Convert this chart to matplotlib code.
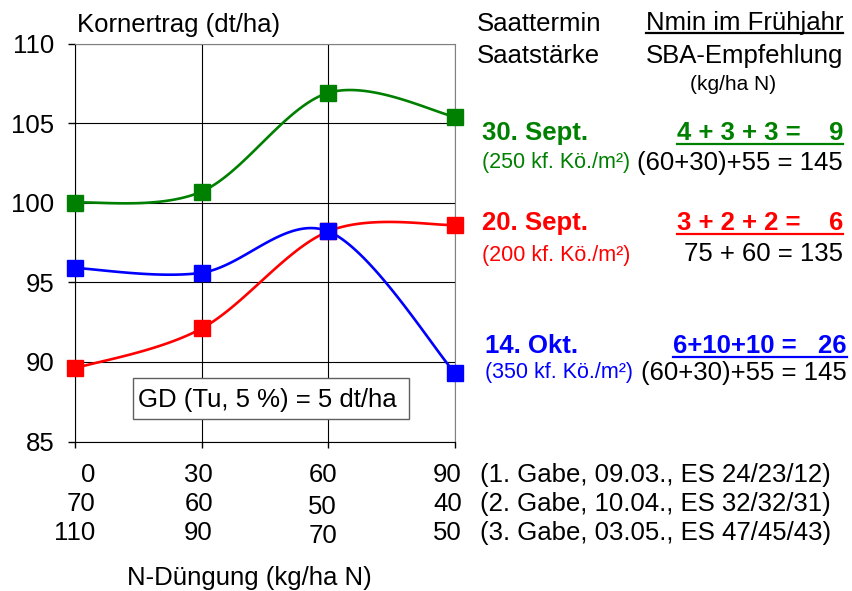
import numpy as np
import matplotlib
matplotlib.use("Agg")
import matplotlib.pyplot as plt
from matplotlib.lines import Line2D
from matplotlib.patches import Rectangle

plt.rcParams['font.family'] = ['Liberation Sans', 'DejaVu Sans']

W, H = 853, 591
FS = 18.5

# N rates of the first dressing (x axis positions)
n_rates = [0, 30, 60, 90]
gabe1 = ["0", "30", "60", "90"]
gabe2 = ["70", "60", "50", "40"]
gabe3 = ["110", "90", "70", "50"]
gabe_info = ["(1. Gabe, 09.03., ES 24/23/12)",
             "(2. Gabe, 10.04., ES 32/32/31)",
             "(3. Gabe, 03.05., ES 47/45/43)"]

# grain yield dt/ha
yield_30sep = [100.0, 100.7, 106.9, 105.4]
yield_20sep = [89.6, 92.1, 98.2, 98.6]
yield_14okt = [95.9, 95.6, 98.2, 89.3]

green = "#008000"
red = "#ff0000"
blue = "#0000ff"

y_ticks = [85, 90, 95, 100, 105, 110]


def px(x, y):
    # pixel position (top-left origin) -> figure fraction
    return x / W, 1 - y / H


def smooth(xs, ys, n=40):
    # excel-like smoothed line (bezier through the points)
    xs = np.asarray(xs, float)
    ys = np.asarray(ys, float)
    sx, sy = 380 / 90, 398 / 25
    p = np.column_stack([xs * sx, (ys - 85) * sy])
    out = []
    for i in range(len(p) - 1):
        p0 = p[i - 1] if i > 0 else p[i]
        p1 = p[i]
        p2 = p[i + 1]
        p3 = p[i + 2] if i + 2 < len(p) else p[i + 1]
        c1 = p1 + (p2 - p0) / 6
        c2 = p2 - (p3 - p1) / 6
        t = np.linspace(0, 1, n)[:, None]
        seg = (1 - t) ** 3 * p1 + 3 * (1 - t) ** 2 * t * c1 + 3 * (1 - t) * t ** 2 * c2 + t ** 3 * p2
        out.append(seg)
    out = np.vstack(out)
    return out[:, 0] / sx, out[:, 1] / sy + 85


fig = plt.figure(figsize=(W / 100, H / 100), dpi=100)
ax = fig.add_axes([75 / W, (H - 441.5) / H, 380 / W, 398 / H])

ax.set_xlim(0, 90)
ax.set_ylim(85, 110)
ax.set_xticks(n_rates)
ax.set_xticklabels([])
ax.set_yticks(y_ticks)
ax.set_yticklabels([str(v) for v in y_ticks])
ax.tick_params(axis='y', direction='out', length=5, width=1, labelsize=FS, pad=10)
ax.tick_params(axis='x', direction='out', length=4, width=1)
ax.grid(True, color='black', linewidth=0.8)
ax.set_axisbelow(True)
for s in ['top', 'right']:
    ax.spines[s].set_color('#808080')
for s in ['left', 'bottom']:
    ax.spines[s].set_color('black')

for ys, col in [(yield_30sep, green), (yield_20sep, red), (yield_14okt, blue)]:
    sx_, sy_ = smooth(n_rates, ys)
    ax.plot(sx_, sy_, color=col, linewidth=1.9, clip_on=False, zorder=3)
    ax.plot(n_rates, ys, linestyle='none', marker='s', markersize=12,
            color=col, clip_on=False, zorder=4)

# GD box
x0, y0 = px(133, 419)
x1, y1 = px(409, 378)
fig.patches.append(Rectangle((x0, y0), x1 - x0, y1 - y0, transform=fig.transFigure,
                             facecolor='white', edgecolor='#606060', linewidth=1, zorder=5))
fig.text(*px(138, 407), "GD (Tu, 5 %) = 5 dt/ha", fontsize=FS, va='baseline', ha='left', zorder=6)

# axis titles
fig.text(*px(77, 32), "Kornertrag (dt/ha)", fontsize=FS, va='baseline')
fig.text(*px(127, 585), "N-Düngung (kg/ha N)", fontsize=FS, va='baseline')

# rows of N rates under the x axis
col_right = [95, 213, 337, 462]
row_base = [482, 511, 540]
for r, row in enumerate([gabe1, gabe2, gabe3]):
    for c, lab in enumerate(row):
        b = row_base[r] + (3 if c == 2 and r > 0 else 0)
        fig.text(*px(col_right[c], b), lab, fontsize=FS, ha='right', va='baseline')
    fig.text(*px(480, row_base[r]), gabe_info[r], fontsize=FS, ha='left', va='baseline')

# right side legend / annotations
underlined = []
fig.text(*px(477, 31), "Saattermin", fontsize=FS, va='baseline')
fig.text(*px(477, 63), "Saatstärke", fontsize=FS, va='baseline')
t = fig.text(*px(843, 30), "Nmin im Frühjahr", fontsize=FS, va='baseline', ha='right')
underlined.append((t, 33, 'black'))
fig.text(*px(843, 63), "SBA-Empfehlung", fontsize=FS, va='baseline', ha='right')
fig.text(*px(690, 90), "(kg/ha N)", fontsize=15, va='baseline')

entries = [
    ("30. Sept.", "(250 kf. Kö./m²)", "4 + 3 + 3 =    9", "(60+30)+55 = 145",
     green, 482, 140, 168, 170, 843),
    ("20. Sept.", "(200 kf. Kö./m²)", "3 + 2 + 2 =    6", "75 + 60 = 135",
     red, 482, 230, 261, 261, 843),
    ("14. Okt.", "(350 kf. Kö./m²)", "6+10+10 =   26", "(60+30)+55 = 145",
     blue, 485, 353, 378, 380, 847),
]
for date, dens, sba, nmin, col, xl, b1, b2, b3, xr in entries:
    fig.text(*px(xl, b1), date, fontsize=FS, fontweight='bold', color=col, va='baseline')
    fig.text(*px(xl, b2), dens, fontsize=15.5, color=col, va='baseline')
    t = fig.text(*px(xr, b1), sba, fontsize=FS, fontweight='bold', color=col,
                 va='baseline', ha='right')
    underlined.append((t, b1 + 4, col))
    fig.text(*px(xr, b3), nmin, fontsize=FS, va='baseline', ha='right')

fig.canvas.draw()
r = fig.canvas.get_renderer()
for t, uy, col in underlined:
    bb = t.get_window_extent(r)
    fig.lines.append(Line2D([bb.x0 / W, bb.x1 / W], [1 - uy / H, 1 - uy / H],
                            transform=fig.transFigure, color=col, linewidth=1.6))

fig.savefig("out.png", dpi=100)
